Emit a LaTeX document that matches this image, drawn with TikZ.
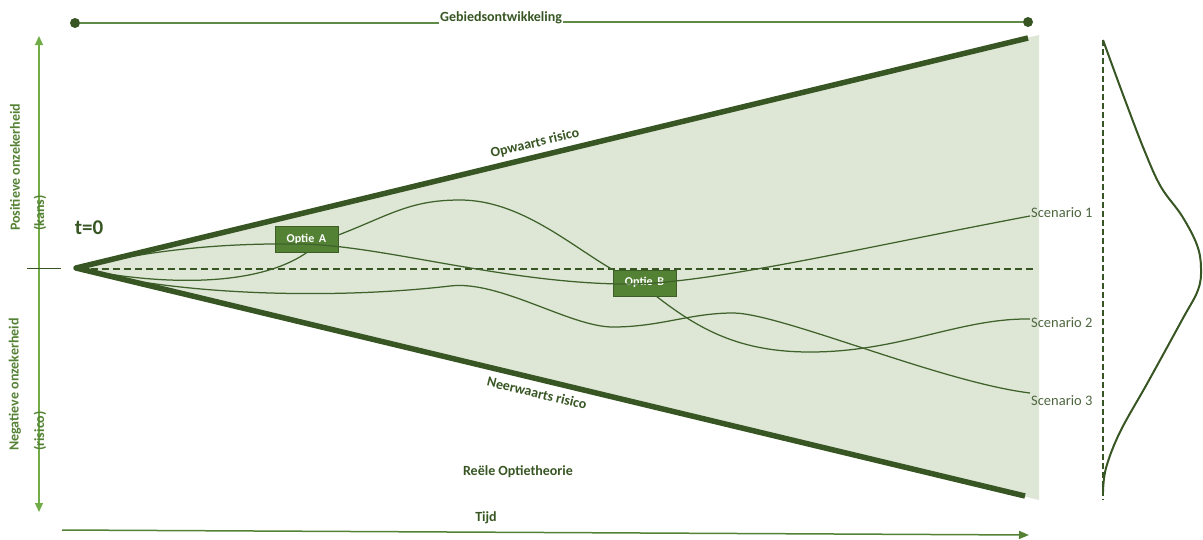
\documentclass[tikz,border=0pt]{standalone}
\usepackage{fontspec}
\setmainfont{Carlito}
\usetikzlibrary{arrows.meta,calc}

\definecolor{dgreen}{RGB}{55,86,35}
\definecolor{mgreen}{RGB}{84,130,53}
\definecolor{lgreen}{RGB}{112,173,71}
\definecolor{conefill}{RGB}{222,230,214}
\definecolor{pathgreen}{RGB}{62,98,42}
\definecolor{scengray}{RGB}{78,102,64}
\definecolor{topline}{RGB}{95,138,72}

\begin{document}
\begin{tikzpicture}[x=1pt,y=-1pt,
  lbl/.style={font=\fontsize{14}{16}\selectfont\bfseries, text=dgreen, inner sep=1pt},
  sidelbl/.style={font=\fontsize{14}{16}\selectfont\bfseries, text=mgreen, inner sep=0pt, rotate=90, anchor=west},
  scen/.style={font=\fontsize{14.5}{16}\selectfont, text=scengray, inner sep=1pt, anchor=west},
  optbox/.style={draw=dgreen!80!mgreen, fill=mgreen, line width=0.8pt, minimum width=63pt, minimum height=26pt,
    inner sep=0pt, text=white, font=\fontsize{12}{14}\selectfont\bfseries},
  edge/.style={draw=dgreen, line width=5.5pt, line join=round},
  scenpath/.style={draw=pathgreen, line width=1.25pt},
  dot/.style={circle, fill=dgreen, inner sep=0pt, minimum size=10pt}
]
\useasboundingbox (0,0) rectangle (1203,539);

% cone of uncertainty
\coordinate (O) at (76,268);
\coordinate (UR) at (1028,38);
\coordinate (LR) at (1025,496);
\fill[conefill] (O) -- (1039,35) -- (1039,500) -- cycle;

% centre line (expected value)
\coordinate (m0) at (80,269);
\coordinate (m1) at (1036,269);
\draw[dgreen, line width=2.6pt, dash pattern=on 7pt off 4pt] (m0) -- (m1);

% option boxes and scenario labels
\node[optbox] (A) at (306.5,239) {\raisebox{1pt}{Optie\, A}};
\node[optbox] (B) at (644.5,283) {\raisebox{3pt}{Optie\, B}};
\node[scen] (s1) at (1030,213) {Scenario 1};
\node[scen] (s2) at (1030,323) {Scenario 2};
\node[scen] (s3) at (1030,401) {Scenario 3};

% scenario paths
\draw[scenpath] (O) .. controls (140,282) and (250,292) .. ([xshift=0.5pt]A.south);
\draw[scenpath] ([yshift=4pt]A.east) .. controls (390,215) and (410,200) .. (460,200)
                .. controls (520,200) and (570,245) .. (B.north west);
\draw[scenpath] ([xshift=12pt]B.south) .. controls (700,330) and (740,352) .. (810,352)
                .. controls (900,352) and (960,318) .. ([yshift=4pt]s2.west);
\draw[scenpath] (O) .. controls (150,250) and (220,243) .. (300,244)
                .. controls (380,245) and (500,282) .. (620,284)
                .. controls (700,286) and (850,250) .. ([yshift=-3pt]s1.west);
\draw[scenpath] (O) .. controls (170,295) and (330,300) .. (450,286)
                .. controls (500,280) and (570,327) .. (613,327)
                .. controls (660,327) and (690,313) .. (733,313)
                .. controls (780,313) and (940,382) .. ([yshift=8pt]s3.west);

% cone edges
\draw[edge] (UR) -- (O) -- (LR);
\node[lbl, rotate=13.6] (up) at (535,143.5) {Opwaarts risico};
\node[lbl, rotate=-13.5] (down) at (537,393) {Neerwaarts risico};

% project timeline
\node[dot] (g1) at (75,23) {};
\node[dot] (g2) at (1028,22) {};
\node[lbl, anchor=base] (gt) at (501,21) {Gebiedsontwikkeling};
\draw[topline, line width=1.6pt] (g1) -- (g1 -| gt.west);
\draw[topline, line width=1.6pt] (gt.east |- g2) -- (g2);

% vertical uncertainty axis
\coordinate (vtop) at (39,36);
\coordinate (vbot) at (39,512);
\draw[lgreen, line width=1.2pt, {Triangle[length=9pt,width=8pt]}-{Triangle[length=9pt,width=8pt]}] (vtop) -- (vbot);
\coordinate (tk0) at (27,268);
\coordinate (tk1) at (61,268);
\draw[dgreen, line width=1pt] (tk0) -- (tk1);
\node[sidelbl] (pos1) at (15,231) {Positieve onzekerheid};
\node[sidelbl] (pos2) at (40,231) {(kans)};
\node[sidelbl] (neg1) at (15,451) {Negatieve onzekerheid};
\node[sidelbl] (neg2) at (40,451) {(risico)};

\node[lbl, font=\fontsize{21}{24}\selectfont\bfseries] (t0) at (89,228) {t=0};

% time axis
\coordinate (ta) at (62,530);
\coordinate (tb) at (1029,535);
\draw[mgreen, line width=1.5pt, -{Triangle[length=10pt,width=8pt]}] (ta) -- (tb);
\node[lbl] (tijd) at (486,518) {Tijd};
\node[lbl] (rot) at (518,472) {Reële Optietheorie};

% outcome distribution
\coordinate (d0) at (1103,40);
\coordinate (d1) at (1103,500);
\draw[dgreen, line width=2pt, dash pattern=on 6pt off 3pt] (d0) -- (d1);
\draw[dgreen, line width=2pt] plot[smooth, tension=0.6] coordinates {
  (1103,40) (1125,100) (1145,152) (1161,187) (1182,216) (1197,245) (1201,268)
  (1198,290) (1182,320) (1148,382) (1120,432) (1106,468) (1103,492)};
\end{tikzpicture}
\end{document}
